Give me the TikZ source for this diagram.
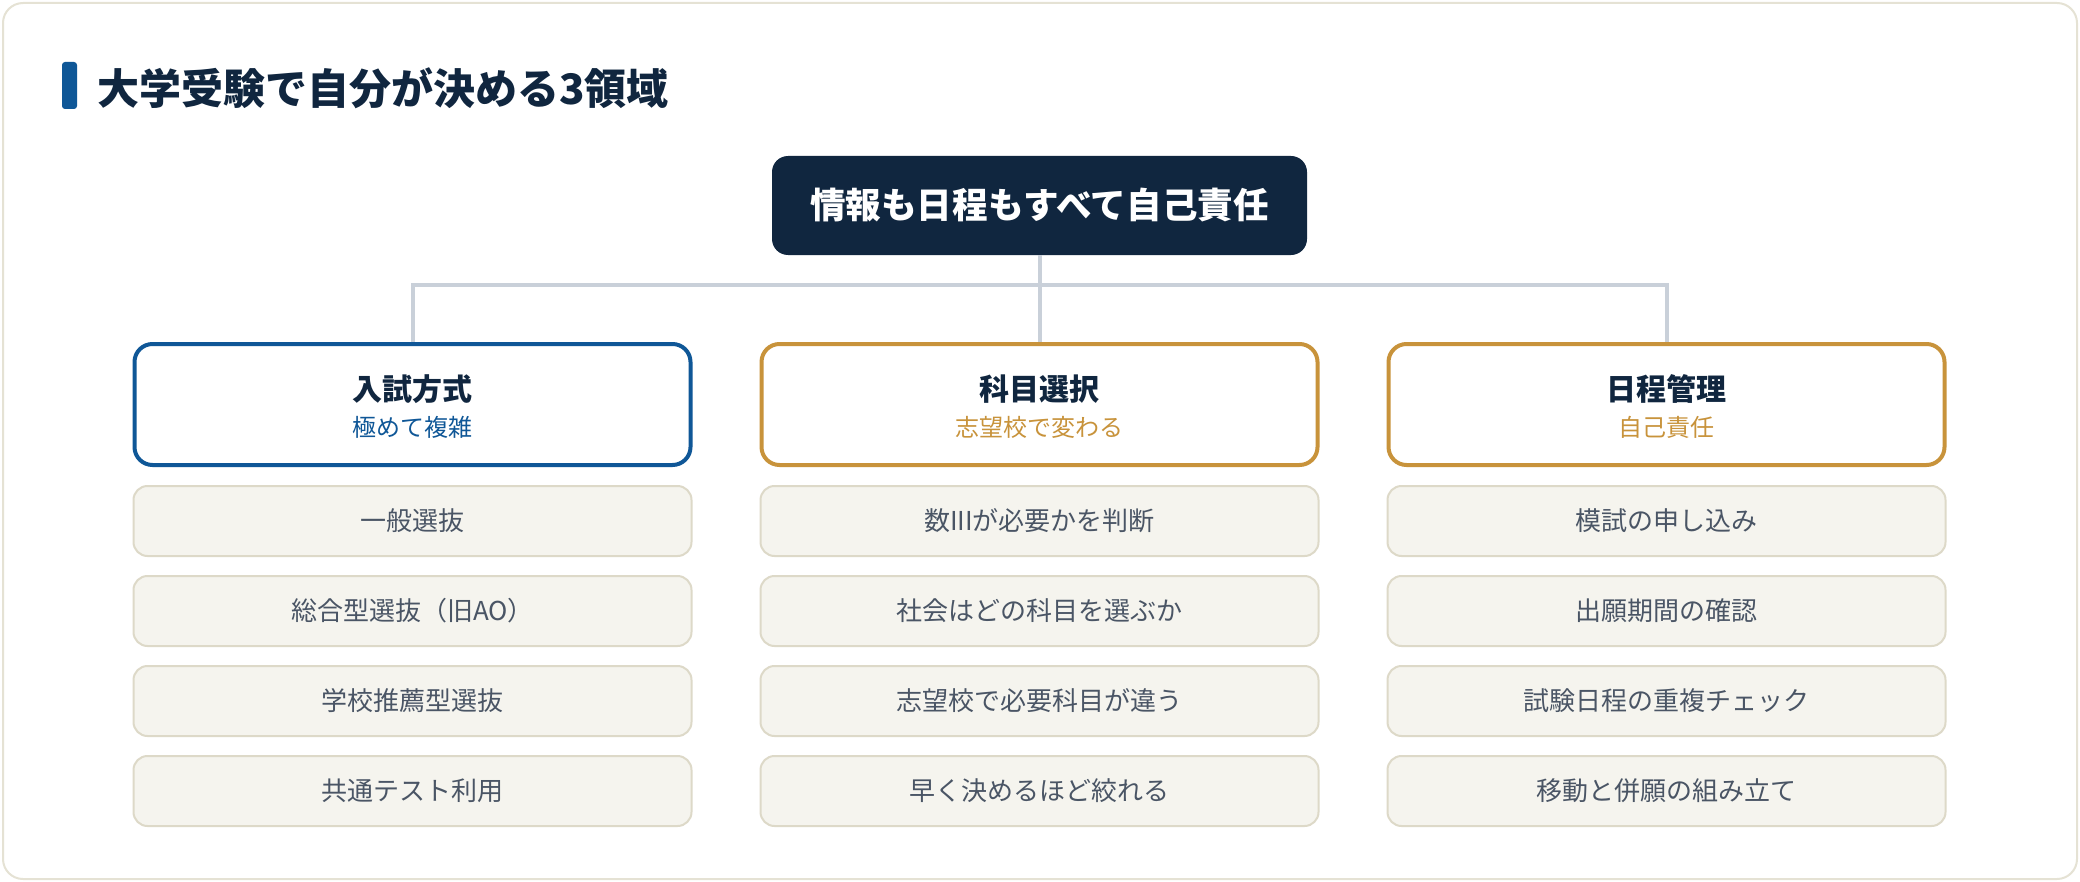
\documentclass[tikz,border=0pt]{standalone}
\usepackage{fontspec}
\setmainfont{Noto Sans CJK JP}
\usetikzlibrary{positioning}
\definecolor{navy}{HTML}{10263F}
\definecolor{ablue}{HTML}{0F5797}
\definecolor{gold}{HTML}{C8933B}
\definecolor{linegray}{HTML}{C9D0D9}
\definecolor{cream}{HTML}{F5F4EE}
\definecolor{creamline}{HTML}{DDD9C8}
\definecolor{itemtext}{HTML}{4A5565}
\definecolor{framegray}{HTML}{E5E2D4}

\begin{document}
\begin{tikzpicture}[x=0.5pt,y=-0.5pt,
    topbox/.style={fill=navy,rounded corners=8pt,minimum width=267.5pt,minimum height=49.5pt,text=white,font=\fontsize{17.8}{20}\selectfont\bfseries},
    headbox/.style={draw=#1,line width=2pt,fill=white,rounded corners=9pt,minimum width=278pt,minimum height=60.5pt},
    headtitle/.style={text=navy,font=\fontsize{15}{18}\selectfont\bfseries},
    headsub/.style={text=#1,font=\fontsize{12}{14}\selectfont},
    itembox/.style={draw=creamline,line width=1pt,fill=cream,rounded corners=7pt,minimum width=279pt,minimum height=35pt,text=itemtext,font=\fontsize{13}{15}\selectfont},
    conn/.style={draw=linegray,line width=2pt}]
    \useasboundingbox (0,0) rectangle (2080,882);
    \draw[framegray,fill=white,line width=1pt,rounded corners=10pt] (3,3) rectangle (2077,879);
    % title
    \fill[ablue,rounded corners=1.5pt] (62,62) rectangle (77,109);
    \node[anchor=west,text=navy,font=\fontsize{21}{24}\selectfont\bfseries] (title) at (90,88) {大学受験で自分が決める3領域};
    \node[topbox] (top) at (1039.5,205.5) {情報も日程もすべて自己責任};
    % three headers
    \node[headbox=ablue] (h1) at (412.5,404.5) {};
    \node[headbox=gold] (h2) at (1039.5,404.5) {};
    \node[headbox=gold] (h3) at (1666.5,404.5) {};
    \node[headtitle] (h1t) at (412.5,389) {入試方式};
    \node[headsub=ablue] (h1s) at (412.5,427) {極めて複雑};
    \node[headtitle] (h2t) at (1039.5,389) {科目選択};
    \node[headsub=gold] (h2s) at (1039.5,427) {志望校で変わる};
    \node[headtitle] (h3t) at (1666.5,389) {日程管理};
    \node[headsub=gold] (h3s) at (1666.5,427) {自己責任};
    \coordinate (j) at (1039.5,285);
    \draw[conn] (top) -- (h2);
    \draw[conn] (h1) |- (j) -| (h3);
    % items
    \node[itembox,below=9pt of h1] (a1) {一般選抜};
    \node[itembox,below=9pt of a1] (a2) {総合型選抜（旧AO）};
    \node[itembox,below=9pt of a2] (a3) {学校推薦型選抜};
    \node[itembox,below=9pt of a3] (a4) {共通テスト利用};
    \node[itembox,below=9pt of h2] (b1) {数IIIが必要かを判断};
    \node[itembox,below=9pt of b1] (b2) {社会はどの科目を選ぶか};
    \node[itembox,below=9pt of b2] (b3) {志望校で必要科目が違う};
    \node[itembox,below=9pt of b3] (b4) {早く決めるほど絞れる};
    \node[itembox,below=9pt of h3] (c1) {模試の申し込み};
    \node[itembox,below=9pt of c1] (c2) {出願期間の確認};
    \node[itembox,below=9pt of c2] (c3) {試験日程の重複チェック};
    \node[itembox,below=9pt of c3] (c4) {移動と併願の組み立て};
\end{tikzpicture}
\end{document}
